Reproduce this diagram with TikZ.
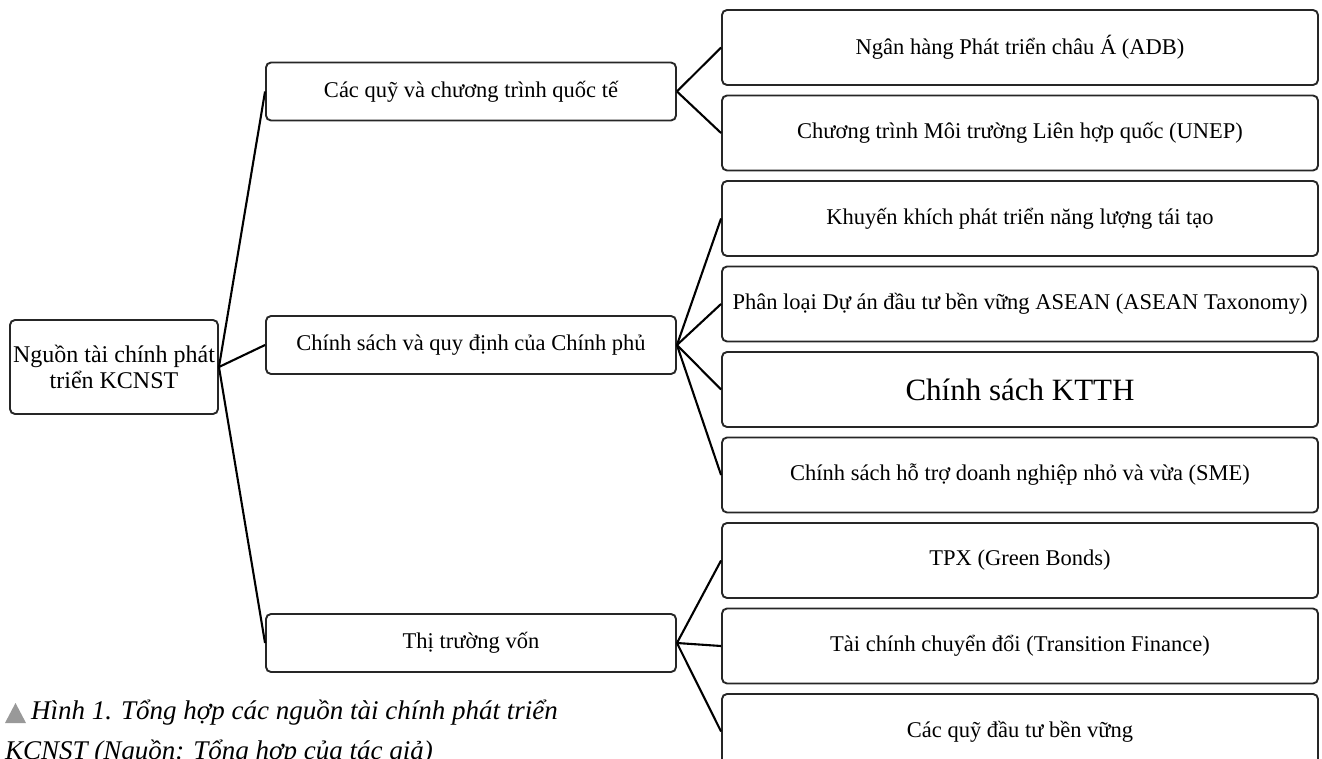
\documentclass[tikz,border=0pt]{standalone}
\usepackage{fontspec}
\setmainfont{Liberation Serif}
\begin{document}
\begin{tikzpicture}[x=1pt,y=-1pt,
  box/.style={draw=black!85, line width=1.9pt, rounded corners=5pt, align=center, inner sep=0pt, font=\fontsize{22.5}{25}\selectfont},
  rootbox/.style={box, minimum width=208pt, minimum height=94pt, font=\fontsize{24}{26}\selectfont},
  midbox/.style={box, minimum width=410pt, minimum height=58pt},
  leafbox/.style={box, minimum width=596pt, minimum height=75pt},
  link/.style={draw=black, line width=2.1pt},
  captiontext/.style={anchor=west, inner sep=0pt, font=\fontsize{27}{30}\selectfont\itshape, text=black}]
\clip (0,0) rectangle (1322,759);
\fill[white] (0,0) rectangle (1322,759);

\node[rootbox] (root) at (114,367) {Nguồn tài chính phát\\triển KCNST};

\node[midbox] (m1) at (471,91.5) {Các quỹ và chương trình quốc tế};
\node[midbox] (m2) at (471,345) {Chính sách và quy định của Chính phủ};
\node[midbox] (m3) at (471,643) {Thị trường vốn};

\node[leafbox] (l1) at (1020,47.5) {Ngân hàng Phát triển châu Á (ADB)};
\node[leafbox] (l2) at (1020,133) {Chương trình Môi trường Liên hợp quốc (UNEP)};
\node[leafbox] (l3) at (1020,218.5) {Khuyến khích phát triển năng lượng tái tạo};
\node[leafbox] (l4) at (1020,304) {Phân loại Dự án đầu tư bền vững ASEAN (ASEAN Taxonomy)};
\node[leafbox, font=\fontsize{31}{34}\selectfont] (l5) at (1020,389.5) {Chính sách KTTH};
\node[leafbox] (l6) at (1020,475) {Chính sách hỗ trợ doanh nghiệp nhỏ và vừa (SME)};
\node[leafbox] (l7) at (1020,560.5) {TPX (Green Bonds)};
\node[leafbox] (l8) at (1020,646) {Tài chính chuyển đổi (Transition Finance)};
\node[leafbox] (l9) at (1020,731.5) {Các quỹ đầu tư bền vững};

\foreach \m in {m1,m2,m3} \draw[link] (root.east) -- (\m.west);
\foreach \l in {l1,l2} \draw[link] (m1.east) -- (\l.west);
\foreach \l in {l3,l4,l5,l6} \draw[link] (m2.east) -- (\l.west);
\foreach \l in {l7,l8,l9} \draw[link] (m3.east) -- (\l.west);

\fill[black!40] (5,723) -- (15.5,703) -- (26,723) -- cycle;
\node[captiontext] (cap1) at (31,713) {Hình 1. Tổng hợp các nguồn tài chính phát triển};
\node[captiontext] (cap2) at (5,753) {KCNST (Nguồn: Tổng hợp của tác giả)};
\end{tikzpicture}
\end{document}
